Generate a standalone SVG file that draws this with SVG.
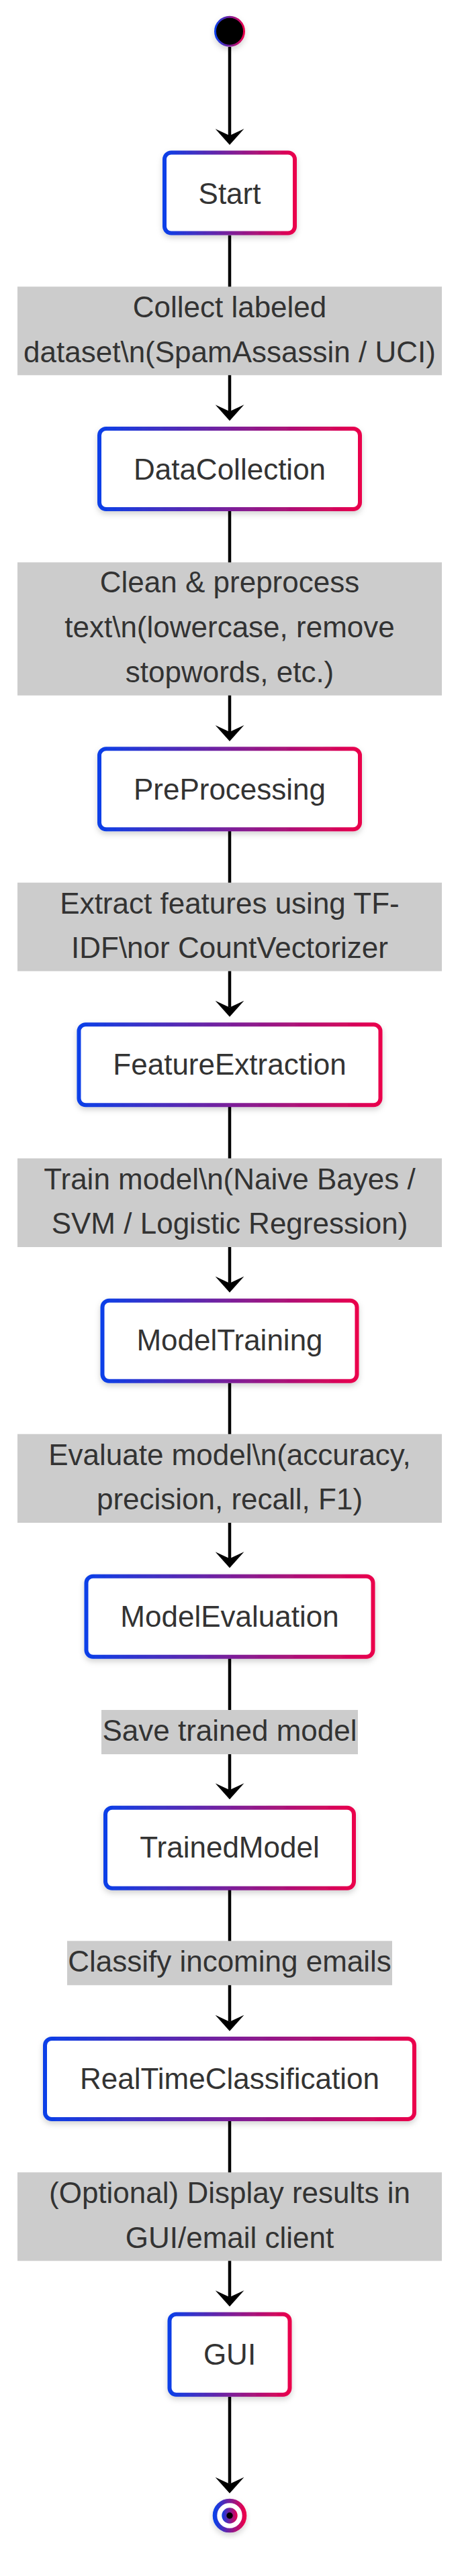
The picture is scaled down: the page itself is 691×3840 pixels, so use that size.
<svg xmlns="http://www.w3.org/2000/svg" width="691" height="3840" viewBox="0 0 691 3840">
<style>
.node rect{fill:#fff;stroke:url(#grad);stroke-width:6;filter:url(#shadow)}
.node text,.lbl text{font-family:"Liberation Sans",Arial,sans-serif;font-size:44px;fill:#333;text-anchor:middle}
.lbl rect{fill:#cccccc}
.edge{stroke:#000;stroke-width:4.5;fill:none;marker-end:url(#arrow)}
</style>
<defs>
<linearGradient id="grad" x1="0" y1="0" x2="1" y2="0">
<stop offset="0" stop-color="#0b3fe8"/>
<stop offset="1" stop-color="#ea004c"/>
</linearGradient>
<filter id="shadow" x="-20%" y="-20%" width="140%" height="150%">
<feDropShadow dx="0" dy="4" stdDeviation="4" flood-color="#000" flood-opacity="0.18"/>
</filter>
<marker id="arrow" viewBox="0 0 24 43" refX="10" refY="21.5" markerWidth="24" markerHeight="43" markerUnits="userSpaceOnUse" orient="auto">
<path d="M0,0 L24,21.5 L0,43 L10,21.5 z" fill="#000"/>
</marker>
</defs>

<g id="connectors">
<line class="edge" x1="342" y1="70" x2="342" y2="202"/>
<line class="edge" x1="342" y1="350.7" x2="342" y2="613.3"/>
<line class="edge" x1="342" y1="761.7" x2="342" y2="1091"/>
<line class="edge" x1="342" y1="1239" x2="342" y2="1501.7"/>
<line class="edge" x1="342" y1="1650" x2="342" y2="1912.7"/>
<line class="edge" x1="342" y1="2061.7" x2="342" y2="2323.3"/>
<line class="edge" x1="342" y1="2472.3" x2="342" y2="2668.3"/>
<line class="edge" x1="342" y1="2816.7" x2="342" y2="3013.7"/>
<line class="edge" x1="342" y1="3161.7" x2="342" y2="3424.3"/>
<line class="edge" x1="342" y1="3572.7" x2="342" y2="3702.7"/>
</g>

<g id="labels">
<g class="lbl" id="label-1">
<rect x="26" y="427.3" width="632" height="132"/>
<text x="342" y="473.3">Collect labeled</text>
<text x="342" y="540">dataset\n(SpamAssassin / UCI)</text>
</g>
<g class="lbl" id="label-2">
<rect x="26" y="838.3" width="632" height="198.4"/>
<text x="342" y="883.3">Clean &amp; preprocess</text>
<text x="342" y="950">text\n(lowercase, remove</text>
<text x="342" y="1016.7">stopwords, etc.)</text>
</g>
<g class="lbl" id="label-3">
<rect x="26" y="1315.7" width="632" height="132"/>
<text x="342" y="1361.7">Extract features using TF-</text>
<text x="342" y="1428.3">IDF\nor CountVectorizer</text>
</g>
<g class="lbl" id="label-4">
<rect x="26" y="1726.7" width="632" height="132.3"/>
<text x="342" y="1773">Train model\n(Naive Bayes /</text>
<text x="342" y="1839.3">SVM / Logistic Regression)</text>
</g>
<g class="lbl" id="label-5">
<rect x="26" y="2137.7" width="632" height="132.3"/>
<text x="342" y="2184">Evaluate model\n(accuracy,</text>
<text x="342" y="2250.3">precision, recall, F1)</text>
</g>
<g class="lbl" id="label-6">
<rect x="151" y="2549" width="382" height="66"/>
<text x="342" y="2595">Save trained model</text>
</g>
<g class="lbl" id="label-7">
<rect x="100" y="2893.3" width="484" height="66"/>
<text x="342" y="2939.3">Classify incoming emails</text>
</g>
<g class="lbl" id="label-8">
<rect x="26" y="3238.3" width="632" height="132"/>
<text x="342" y="3284.3">(Optional) Display results in</text>
<text x="342" y="3350.6">GUI/email client</text>
</g>
</g>

<g id="start-state">
<circle cx="342" cy="46.7" r="21.5" fill="#000" stroke="url(#grad)" stroke-width="3" filter="url(#shadow)"/>
</g>

<g class="node" id="Start">
<rect x="245" y="227.5" width="194" height="120" rx="10"/>
<text x="342" y="304">Start</text>
</g>
<g class="node" id="DataCollection">
<rect x="148" y="639" width="388" height="120" rx="10"/>
<text x="342" y="715">DataCollection</text>
</g>
<g class="node" id="PreProcessing">
<rect x="148" y="1116.3" width="388" height="120" rx="10"/>
<text x="342" y="1191.7">PreProcessing</text>
</g>
<g class="node" id="FeatureExtraction">
<rect x="117.5" y="1527.3" width="449" height="120" rx="10"/>
<text x="342" y="1601.7">FeatureExtraction</text>
</g>
<g class="node" id="ModelTraining">
<rect x="152.5" y="1938.7" width="379" height="120" rx="10"/>
<text x="342" y="2013.3">ModelTraining</text>
</g>
<g class="node" id="ModelEvaluation">
<rect x="128.5" y="2349.7" width="427" height="120" rx="10"/>
<text x="342" y="2425">ModelEvaluation</text>
</g>
<g class="node" id="TrainedModel">
<rect x="157" y="2694.7" width="370" height="120" rx="10"/>
<text x="342" y="2769.3">TrainedModel</text>
</g>
<g class="node" id="RealTimeClassification">
<rect x="67" y="3039" width="550" height="120" rx="10"/>
<text x="342" y="3114">RealTimeClassification</text>
</g>
<g class="node" id="GUI">
<rect x="252.5" y="3449.7" width="179" height="120" rx="10"/>
<text x="342" y="3525">GUI</text>
</g>

<g id="end-state">
<circle cx="342" cy="3750" r="22" fill="#fff" stroke="url(#grad)" stroke-width="6.6" filter="url(#shadow)"/>
<circle cx="342" cy="3750" r="11.7" fill="url(#grad)"/>
<circle cx="342" cy="3750" r="4.7" fill="#000"/>
</g>
</svg>
